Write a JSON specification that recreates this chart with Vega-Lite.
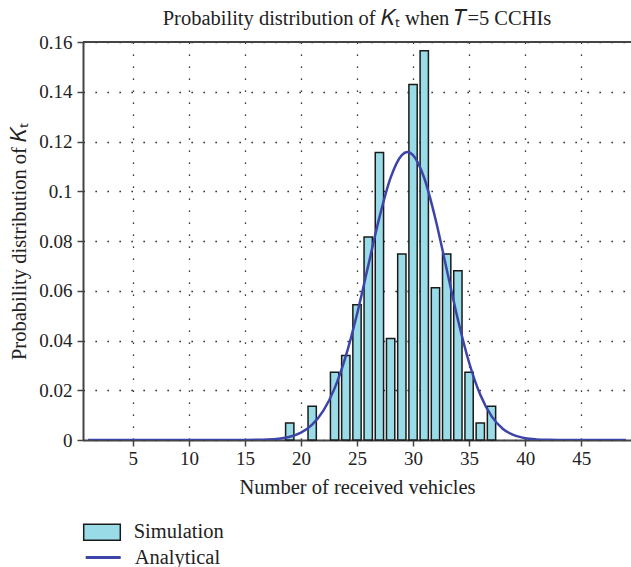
{
  "$schema": "https://vega.github.io/schema/vega-lite/v6.json",
  "width": 548,
  "height": 398,
  "autosize": {"type": "none"},
  "padding": {"left": 83, "top": 42, "right": 0, "bottom": 127},
  "background": "white",
  "title": {
    "text": "Probability distribution of 𝐾ₜ when 𝑇=5 CCHIs",
    "font": "Liberation Serif",
    "fontSize": 20.5,
    "fontWeight": "normal",
    "color": "#222222",
    "anchor": "middle",
    "offset": 4
  },
  "config": {
    "view": {"stroke": null},
    "axis": {
      "labelFont": "Liberation Serif",
      "titleFont": "Liberation Serif",
      "labelFontSize": 19,
      "titleFontSize": 20.5,
      "titleFontWeight": "normal",
      "labelColor": "#222222",
      "titleColor": "#222222",
      "domainColor": "#444444",
      "domainWidth": 2,
      "tickColor": "#444444",
      "tickWidth": 1.5,
      "tickSize": 6,
      "gridColor": "#000000",
      "gridWidth": 1.3,
      "gridDash": [1.3, 10.7],
      "gridOpacity": 1
    },
    "legend": {
      "labelFont": "Liberation Serif",
      "labelFontSize": 20.5,
      "labelColor": "#222222"
    }
  },
  "datasets": {
    "sim": [
      {"k": 19, "p": 0.0068},
      {"k": 21, "p": 0.0136},
      {"k": 23, "p": 0.0272},
      {"k": 24, "p": 0.0340},
      {"k": 25, "p": 0.0544},
      {"k": 26, "p": 0.0816},
      {"k": 27, "p": 0.1156},
      {"k": 28, "p": 0.0408},
      {"k": 29, "p": 0.0748},
      {"k": 30, "p": 0.1429},
      {"k": 31, "p": 0.1565},
      {"k": 32, "p": 0.0612},
      {"k": 33, "p": 0.0748},
      {"k": 34, "p": 0.0680},
      {"k": 35, "p": 0.0272},
      {"k": 36, "p": 0.0068},
      {"k": 37, "p": 0.0136}
    ],
    "ana": [
      {"k": 1, "p": 0},
      {"k": 5, "p": 0},
      {"k": 10, "p": 0},
      {"k": 12, "p": 0.000001},
      {"k": 14, "p": 0.000006},
      {"k": 15, "p": 0.000022},
      {"k": 16, "p": 0.00007},
      {"k": 17, "p": 0.0002},
      {"k": 18, "p": 0.00054},
      {"k": 19, "p": 0.00132},
      {"k": 20, "p": 0.00298},
      {"k": 21, "p": 0.00617},
      {"k": 22, "p": 0.01179},
      {"k": 23, "p": 0.02075},
      {"k": 24, "p": 0.03372},
      {"k": 25, "p": 0.05058},
      {"k": 26, "p": 0.07003},
      {"k": 27, "p": 0.08948},
      {"k": 28, "p": 0.10546},
      {"k": 29, "p": 0.11456},
      {"k": 29.5, "p": 0.1158},
      {"k": 30, "p": 0.11456},
      {"k": 31, "p": 0.10533},
      {"k": 32, "p": 0.08887},
      {"k": 33, "p": 0.06867},
      {"k": 34, "p": 0.04847},
      {"k": 35, "p": 0.03116},
      {"k": 36, "p": 0.01818},
      {"k": 37, "p": 0.00958},
      {"k": 38, "p": 0.00454},
      {"k": 39, "p": 0.00192},
      {"k": 40, "p": 0.00072},
      {"k": 41, "p": 0.00024},
      {"k": 42, "p": 0.00007},
      {"k": 43, "p": 0.00002},
      {"k": 45, "p": 0},
      {"k": 49, "p": 0}
    ]
  },
  "layer": [
    {
      "data": {"name": "sim"},
      "mark": {"type": "bar", "width": 8.3, "stroke": "#1a1a1a", "strokeWidth": 1.5},
      "encoding": {
        "x": {
          "field": "k",
          "type": "quantitative",
          "scale": {"domain": [1, 49], "nice": false, "zero": false},
          "axis": {
            "values": [5, 10, 15, 20, 25, 30, 35, 40, 45],
            "title": "Number of received vehicles",
            "grid": true,
            "labelPadding": 3,
            "titlePadding": 9
          }
        },
        "y": {
          "field": "p",
          "type": "quantitative",
          "scale": {"domain": [0, 0.16], "nice": false},
          "axis": {
            "values": [0, 0.02, 0.04, 0.06, 0.08, 0.1, 0.12, 0.14, 0.16],
            "format": "~g",
            "title": "Probability distribution of 𝐾ₜ",
            "grid": true,
            "labelPadding": 5,
            "titlePadding": 9
          }
        },
        "fill": {
          "datum": "Simulation",
          "type": "nominal",
          "scale": {"domain": ["Simulation"], "range": ["#99DCE8"]},
          "legend": {
            "title": null,
            "orient": "none",
            "legendX": 8,
            "legendY": 479.3,
            "padding": 0,
            "symbolType": "M-1.83,-0.8H1.83V0.8H-1.83Z",
            "symbolSize": 400,
            "symbolStrokeColor": "#1a1a1a",
            "symbolStrokeWidth": 1.5,
            "symbolOpacity": 1,
            "labelOffset": 20.7
          }
        }
      }
    },
    {
      "data": {"name": "ana"},
      "mark": {"type": "line", "interpolate": "monotone", "strokeWidth": 2.5, "clip": true},
      "encoding": {
        "x": {"field": "k", "type": "quantitative"},
        "y": {"field": "p", "type": "quantitative"},
        "stroke": {
          "datum": "Analytical",
          "type": "nominal",
          "scale": {"domain": ["Analytical"], "range": ["#3D44A8"]},
          "legend": {
            "title": null,
            "orient": "none",
            "legendX": 8.7,
            "legendY": 504,
            "padding": 0,
            "symbolType": "M-1.75,0H1.75",
            "symbolSize": 400,
            "symbolStrokeWidth": 3,
            "symbolOpacity": 1,
            "labelOffset": 20
          }
        }
      }
    },
    {
      "data": {"values": [{}]},
      "mark": {"type": "rule", "color": "#444444", "strokeWidth": 2},
      "encoding": {"y": {"datum": 0.16, "type": "quantitative"}}
    }
  ]
}
